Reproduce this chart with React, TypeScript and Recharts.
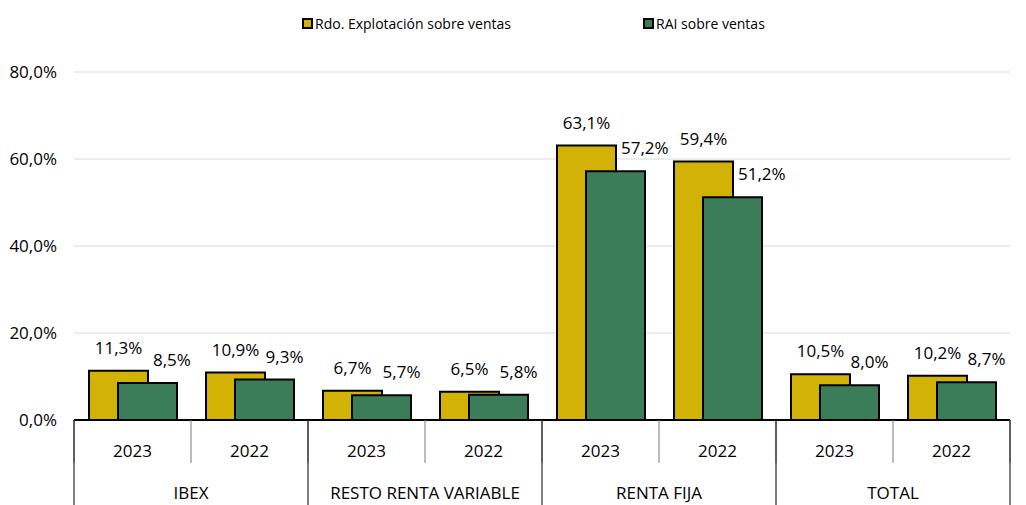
import { BarChart, Bar, XAxis, YAxis, CartesianGrid } from 'recharts'

const years = ['2023', '2022', '2023', '2022', '2023', '2022', '2023', '2022']
const groups = ['IBEX', 'IBEX', 'RESTO RENTA VARIABLE', 'RESTO RENTA VARIABLE', 'RENTA FIJA', 'RENTA FIJA', 'TOTAL', 'TOTAL']
const rdoExplotacion = [11.3, 10.9, 6.7, 6.5, 63.1, 59.4, 10.5, 10.2]
const raiVentas = [8.5, 9.3, 5.7, 5.8, 57.2, 51.2, 8.0, 8.7]
const yTicks = [0, 20, 40, 60, 80]
const seriesNames = ['Rdo. Explotación sobre ventas', 'RAI sobre ventas']

const YELLOW = '#D2B204'
const GREEN = '#3C7D59'
const FONT = '"Open Sans", sans-serif'

const data = years.map((y, i) => ({
    year: y,
    group: groups[i],
    rdo: rdoExplotacion[i],
    rai: raiVentas[i],
}))

const fmt = (v: number) => v.toFixed(1).replace('.', ',') + '%'

// year row: short grey separators between categories
function YearTick(props: any) {
    const { x, y, payload, index, visibleTicksCount } = props
    const half = payload.offset ?? 58.5
    return (
        <g>
            <line x1={x - half} y1={y} x2={x - half} y2={y + 43} stroke="#7a7a7a" strokeWidth={1} />
            {index === visibleTicksCount - 1 && (
                <line x1={x + half} y1={y} x2={x + half} y2={y + 43} stroke="#7a7a7a" strokeWidth={1} />
            )}
            <text x={x} y={y + 37} textAnchor="middle" fontSize={17} fontFamily={FONT} fill="#000">
                {payload.value}
            </text>
        </g>
    )
}

// group row: long black separators from the axis line down to the bottom
function GroupTick(props: any) {
    const { x, y, payload, index, visibleTicksCount } = props
    const half = payload.offset ?? 117
    return (
        <g>
            <line x1={x - half} y1={y - 43} x2={x - half} y2={y + 42} stroke="#000" strokeWidth={1} />
            {index === visibleTicksCount - 1 && (
                <line x1={x + half} y1={y - 43} x2={x + half} y2={y + 42} stroke="#000" strokeWidth={1} />
            )}
            <text x={x} y={y + 36} textAnchor="middle" fontSize={17} fontFamily={FONT} fill="#000">
                {payload.value}
            </text>
        </g>
    )
}

const RdoLabel = (props: any) => {
    const { x, y, width, value } = props
    return (
        <text x={x + width / 2} y={y - 17} textAnchor="middle" fontSize={17} fontFamily={FONT} fill="#000">
            {fmt(value)}
        </text>
    )
}

// green labels sit right of centre; if the yellow bar is in the way, move past it
const RaiLabel = (props: any) => {
    const { x, y, width, height, value, index } = props
    const base = y + height
    const yellowTop = base - (rdoExplotacion[index] * height) / value
    const yellowRight = x - 30 + width
    const blocked = yellowTop < y - 12
    return (
        <text
            x={blocked ? yellowRight + 6 : x + width / 2 + 20}
            y={y - 17}
            textAnchor={blocked ? 'start' : 'middle'}
            fontSize={17}
            fontFamily={FONT}
            fill="#000"
        >
            {fmt(value)}
        </text>
    )
}

function LegendBox() {
    const items = [
        { name: seriesNames[0], color: YELLOW, left: 302 },
        { name: seriesNames[1], color: GREEN, left: 643 },
    ]
    return (
        <>
            {items.map((it) => (
                <div
                    key={it.name}
                    style={{
                        position: 'absolute', top: 14, left: it.left, display: 'flex', alignItems: 'center',
                        fontFamily: FONT, fontSize: 14, color: '#000', whiteSpace: 'nowrap',
                    }}
                >
                    <span style={{ width: 7, height: 7, background: it.color, border: '2px solid #000', marginRight: 2 }} />
                    {it.name}
                </div>
            ))}
        </>
    )
}

export default function App() {
    return (
        <div style={{ position: 'absolute', left: 0, top: 0, width: 1026, height: 505, background: '#fff' }}>
            <BarChart
                width={1026}
                height={505}
                data={data}
                margin={{ top: 72, right: 16, left: 0, bottom: 0 }}
                barSize={59}
                barGap={-30}
            >
                <CartesianGrid vertical={false} stroke="#d9d9d9" strokeWidth={1} />
                <YAxis
                    width={74}
                    domain={[0, 80]}
                    ticks={yTicks}
                    interval={0}
                    axisLine={false}
                    tickLine={false}
                    tickMargin={11}
                    tickFormatter={fmt}
                    tick={{ fontSize: 17, fontFamily: FONT, fill: '#000' }}
                />
                <XAxis
                    dataKey="year"
                    height={43}
                    interval={0}
                    tickLine={false}
                    tickSize={0}
                    tickMargin={0}
                    axisLine={{ stroke: '#000', strokeWidth: 2 }}
                    tick={<YearTick />}
                />
                <XAxis
                    xAxisId="group"
                    dataKey="group"
                    allowDuplicatedCategory={false}
                    height={42}
                    interval={0}
                    tickLine={false}
                    tickSize={0}
                    tickMargin={0}
                    axisLine={false}
                    tick={<GroupTick />}
                />
                <Bar dataKey="rdo" name={seriesNames[0]} fill={YELLOW} stroke="#000" strokeWidth={2}
                    isAnimationActive={false} label={RdoLabel} />
                <Bar dataKey="rai" name={seriesNames[1]} fill={GREEN} stroke="#000" strokeWidth={2}
                    isAnimationActive={false} label={RaiLabel} />
            </BarChart>
            <LegendBox />
        </div>
    )
}
